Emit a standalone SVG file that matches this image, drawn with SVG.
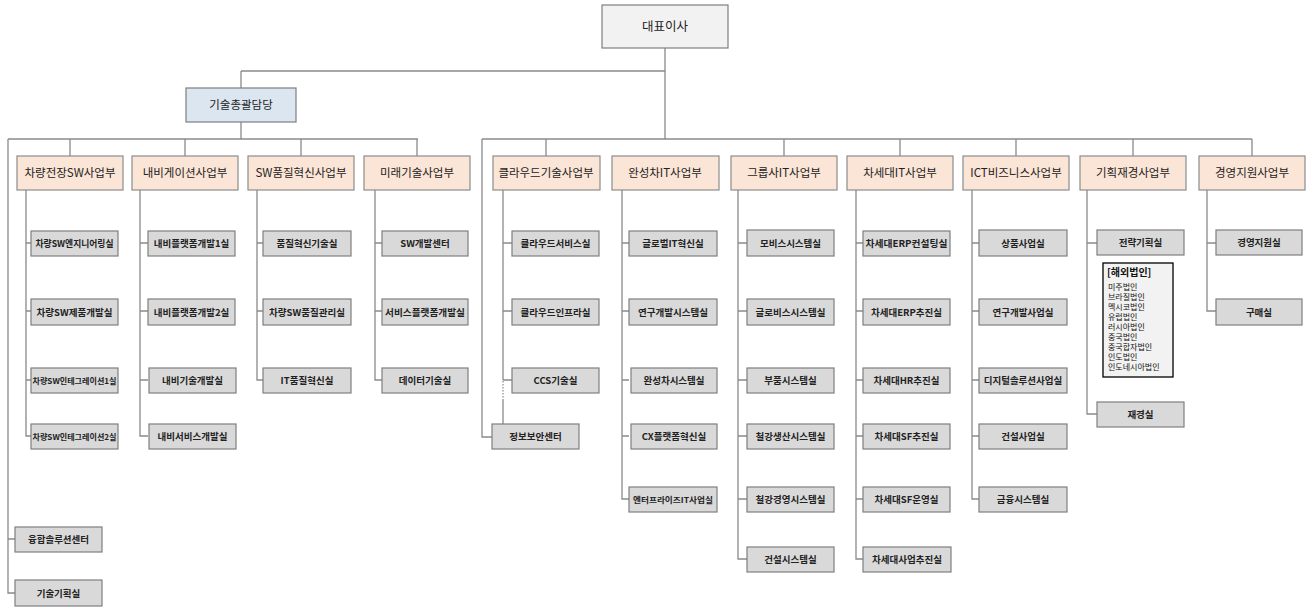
<svg xmlns="http://www.w3.org/2000/svg" width="1310" height="612" viewBox="0 0 1310 612">
<style>
.ln{fill:none;stroke:#8a8a8a;stroke-width:1.3}
.dot{fill:none;stroke:#8a8a8a;stroke-width:1.2;stroke-dasharray:1.5 1.5}
.top{fill:#f2f2f2;stroke:#7f7f7f;stroke-width:1.2}
.gen{fill:#dce6f1;stroke:#7f7f7f;stroke-width:1.2}
.hd{fill:#fbe5d6;stroke:#8c8c8c;stroke-width:1.2}
.ch{fill:#d9d9d9;stroke:#7f7f7f;stroke-width:1.2}
.ov{fill:#f2f2f2;stroke:#000;stroke-width:1.3}
text{font-family:"Noto Sans CJK KR","Noto Sans",sans-serif;fill:#222;text-anchor:middle}
.tt{font-size:12.5px}
.th{font-size:11.5px}
.tc{font-size:9.5px;font-weight:bold}
.ts{font-size:8px;font-weight:bold}
.tl{font-size:8px;text-anchor:start;fill:#111}
.tlh{font-size:10px;text-anchor:start;fill:#111;font-weight:bold}
</style>
<rect width="1310" height="612" fill="#fff"/>
<g id="connectors">
<path class="ln" d="M665 48V139M241 71H665M241 71V88M241 122V139M8 139H418M70 139V156M185 139V156M301 139V156M417 139V156"/>
<path class="ln" d="M8 139V593H15M8 539H15"/>
<path class="ln" d="M482 139H1252M546 139V156M784 139V156M900 139V156M1016 139V156M1133 139V156M1252 139V156"/>
<path class="ln" d="M482 139V437H492"/>
<path class="ln" d="M26 190V436H31M26 243H31M26 311H31M26 380H31"/>
<path class="ln" d="M140 190V436H148M140 243H148M140 311H148M140 380H148"/>
<path class="ln" d="M257 190V380H263M257 243H263M257 311H263"/>
<path class="ln" d="M375 190V380H382M375 243H382M375 311H382"/>
<path class="ln" d="M503 190V380M503 243H512M503 311H512M503 380H512M503 400V424"/>
<path class="dot" d="M503 381V400"/>
<path class="ln" d="M622 190V499H629M622 243H629M622 311H629M622 380H629M622 436H629"/>
<path class="ln" d="M738 190V559H747M738 243H747M738 311H747M738 380H747M738 436H747M738 499H747"/>
<path class="ln" d="M856 190V559H863M856 243H863M856 311H863M856 380H863M856 436H863M856 499H863"/>
<path class="ln" d="M972 190V499H979M972 243H979M972 311H979M972 380H979M972 436H979"/>
<path class="ln" d="M1087 190V414H1097M1087 243H1097"/>
<path class="ln" d="M1207 190V311H1216M1207 243H1216"/>
</g>
<g id="ceo"><rect class="top" x="602" y="5" width="126" height="43"/><text class="tt" x="665" y="31">대표이사</text></g>
<g id="cto"><rect class="gen" x="186" y="88" width="110" height="34"/><text class="th" x="241" y="109">기술총괄담당</text></g>
<g id="d1"><rect class="hd" x="17" y="156" width="106" height="34"/><text class="th" x="70" y="177">차량전장SW사업부</text></g>
<g id="d2"><rect class="hd" x="132" y="156" width="106" height="34"/><text class="th" x="185" y="177">내비게이션사업부</text></g>
<g id="d3"><rect class="hd" x="248" y="156" width="106" height="34"/><text class="th" x="301" y="177">SW품질혁신사업부</text></g>
<g id="d4"><rect class="hd" x="364" y="156" width="106" height="34"/><text class="th" x="417" y="177">미래기술사업부</text></g>
<g id="d5"><rect class="hd" x="493" y="156" width="107" height="34"/><text class="th" x="546" y="177">클라우드기술사업부</text></g>
<g id="d6"><rect class="hd" x="612" y="156" width="107" height="34"/><text class="th" x="665" y="177">완성차IT사업부</text></g>
<g id="d7"><rect class="hd" x="731" y="156" width="106" height="34"/><text class="th" x="784" y="177">그룹사IT사업부</text></g>
<g id="d8"><rect class="hd" x="847" y="156" width="106" height="34"/><text class="th" x="900" y="177">차세대IT사업부</text></g>
<g id="d9"><rect class="hd" x="963" y="156" width="106" height="34"/><text class="th" x="1016" y="177">ICT비즈니스사업부</text></g>
<g id="d10"><rect class="hd" x="1080" y="156" width="106" height="34"/><text class="th" x="1133" y="177">기획재경사업부</text></g>
<g id="d11"><rect class="hd" x="1199" y="156" width="106" height="34"/><text class="th" x="1252" y="177">경영지원사업부</text></g>

<g id="a1"><rect class="ch" x="31" y="231" width="87" height="25"/><text class="tc" x="74.5" y="247" textLength="78" lengthAdjust="spacingAndGlyphs">차량SW엔지니어링실</text></g>
<g id="a2"><rect class="ch" x="31" y="299" width="87" height="26"/><text class="tc" x="74.5" y="315.5">차량SW제품개발실</text></g>
<g id="a3"><rect class="ch" x="31" y="368" width="87" height="25"/><text class="ts" x="74.5" y="384" textLength="84" lengthAdjust="spacingAndGlyphs">차량SW인테그레이션1실</text></g>
<g id="a4"><rect class="ch" x="31" y="424" width="87" height="25"/><text class="ts" x="74.5" y="440" textLength="84" lengthAdjust="spacingAndGlyphs">차량SW인테그레이션2실</text></g>

<g id="b1"><rect class="ch" x="148" y="231" width="87" height="25"/><text class="tc" x="191.5" y="247">내비플랫폼개발1실</text></g>
<g id="b2"><rect class="ch" x="148" y="299" width="87" height="26"/><text class="tc" x="191.5" y="315.5">내비플랫폼개발2실</text></g>
<g id="b3"><rect class="ch" x="149" y="368" width="87" height="25"/><text class="tc" x="192.5" y="384">내비기술개발실</text></g>
<g id="b4"><rect class="ch" x="149" y="424" width="87" height="25"/><text class="tc" x="192.5" y="440">내비서비스개발실</text></g>

<g id="c1"><rect class="ch" x="263" y="231" width="88" height="25"/><text class="tc" x="307" y="247">품질혁신기술실</text></g>
<g id="c2"><rect class="ch" x="263" y="299" width="88" height="26"/><text class="tc" x="307" y="315.5">차량SW품질관리실</text></g>
<g id="c3"><rect class="ch" x="263" y="368" width="88" height="25"/><text class="tc" x="307" y="384">IT품질혁신실</text></g>

<g id="e1"><rect class="ch" x="382" y="231" width="86" height="25"/><text class="tc" x="425" y="247">SW개발센터</text></g>
<g id="e2"><rect class="ch" x="382" y="299" width="86" height="26"/><text class="tc" x="425" y="315.5" textLength="80" lengthAdjust="spacingAndGlyphs">서비스플랫폼개발실</text></g>
<g id="e3"><rect class="ch" x="382" y="368" width="86" height="25"/><text class="tc" x="425" y="384">데이터기술실</text></g>

<g id="f1"><rect class="ch" x="512" y="231" width="87" height="25"/><text class="tc" x="555.5" y="247">클라우드서비스실</text></g>
<g id="f2"><rect class="ch" x="512" y="299" width="87" height="26"/><text class="tc" x="555.5" y="315.5">클라우드인프라실</text></g>
<g id="f3"><rect class="ch" x="512" y="368" width="87" height="25"/><text class="tc" x="555.5" y="384">CCS기술실</text></g>
<g id="f4"><rect class="ch" x="492" y="424" width="87" height="25"/><text class="tc" x="535.5" y="440">정보보안센터</text></g>

<g id="g1"><rect class="ch" x="629" y="231" width="88" height="25"/><text class="tc" x="673" y="247">글로벌IT혁신실</text></g>
<g id="g2"><rect class="ch" x="629" y="299" width="88" height="26"/><text class="tc" x="673" y="315.5">연구개발시스템실</text></g>
<g id="g3"><rect class="ch" x="631" y="368" width="86" height="25"/><text class="tc" x="674" y="384">완성차시스템실</text></g>
<g id="g4"><rect class="ch" x="631" y="424" width="86" height="25"/><text class="tc" x="674" y="440">CX플랫폼혁신실</text></g>
<g id="g5"><rect class="ch" x="629" y="487" width="88" height="25"/><text class="ts" x="673" y="502.5" textLength="80" lengthAdjust="spacingAndGlyphs">엔터프라이즈IT사업실</text></g>

<g id="h1"><rect class="ch" x="747" y="230" width="87" height="26"/><text class="tc" x="790.5" y="246.5">모비스시스템실</text></g>
<g id="h2"><rect class="ch" x="747" y="299" width="87" height="26"/><text class="tc" x="790.5" y="315.5">글로비스시스템실</text></g>
<g id="h3"><rect class="ch" x="747" y="368" width="87" height="25"/><text class="tc" x="790.5" y="384">부품시스템실</text></g>
<g id="h4"><rect class="ch" x="747" y="424" width="87" height="25"/><text class="tc" x="790.5" y="440">철강생산시스템실</text></g>
<g id="h5"><rect class="ch" x="747" y="487" width="87" height="25"/><text class="tc" x="790.5" y="503">철강경영시스템실</text></g>
<g id="h6"><rect class="ch" x="747" y="547" width="87" height="25"/><text class="tc" x="790.5" y="563">건설시스템실</text></g>

<g id="i1"><rect class="ch" x="863" y="231" width="87" height="25"/><text class="tc" x="906.5" y="247" textLength="82" lengthAdjust="spacingAndGlyphs">차세대ERP컨설팅실</text></g>
<g id="i2"><rect class="ch" x="863" y="299" width="87" height="26"/><text class="tc" x="906.5" y="315.5">차세대ERP추진실</text></g>
<g id="i3"><rect class="ch" x="863" y="368" width="87" height="25"/><text class="tc" x="906.5" y="384">차세대HR추진실</text></g>
<g id="i4"><rect class="ch" x="863" y="424" width="87" height="25"/><text class="tc" x="906.5" y="440">차세대SF추진실</text></g>
<g id="i5"><rect class="ch" x="863" y="487" width="87" height="25"/><text class="tc" x="906.5" y="503">차세대SF운영실</text></g>
<g id="i6"><rect class="ch" x="863" y="547" width="88" height="25"/><text class="tc" x="907" y="563">차세대사업추진실</text></g>

<g id="j1"><rect class="ch" x="979" y="230" width="88" height="26"/><text class="tc" x="1023" y="246.5">상품사업실</text></g>
<g id="j2"><rect class="ch" x="979" y="299" width="88" height="26"/><text class="tc" x="1023" y="315.5">연구개발사업실</text></g>
<g id="j3"><rect class="ch" x="979" y="368" width="88" height="25"/><text class="tc" x="1023" y="384">디지털솔루션사업실</text></g>
<g id="j4"><rect class="ch" x="979" y="424" width="88" height="25"/><text class="tc" x="1023" y="440">건설사업실</text></g>
<g id="j5"><rect class="ch" x="979" y="487" width="88" height="25"/><text class="tc" x="1023" y="503">금융시스템실</text></g>

<g id="k1"><rect class="ch" x="1097" y="230" width="87" height="25"/><text class="tc" x="1140.5" y="246">전략기획실</text></g>
<g id="k2"><rect class="ov" x="1103" y="263" width="70" height="114"/>
<text class="tlh" x="1107" y="276">[해외법인]</text>
<text class="tl" x="1108" y="290">미주법인</text>
<text class="tl" x="1108" y="300">브라질법인</text>
<text class="tl" x="1108" y="310">멕시코법인</text>
<text class="tl" x="1108" y="320">유럽법인</text>
<text class="tl" x="1108" y="330">러시아법인</text>
<text class="tl" x="1108" y="340">중국법인</text>
<text class="tl" x="1108" y="350">중국합자법인</text>
<text class="tl" x="1108" y="360">인도법인</text>
<text class="tl" x="1108" y="370">인도네시아법인</text></g>
<g id="k3"><rect class="ch" x="1097" y="402" width="87" height="25"/><text class="tc" x="1140.5" y="418">재경실</text></g>

<g id="l1"><rect class="ch" x="1216" y="230" width="86" height="25"/><text class="tc" x="1259" y="246">경영지원실</text></g>
<g id="l2"><rect class="ch" x="1216" y="299" width="86" height="26"/><text class="tc" x="1259" y="315.5">구매실</text></g>

<g id="m1"><rect class="ch" x="15" y="527" width="87" height="25"/><text class="tc" x="58.5" y="543">융합솔루션센터</text></g>
<g id="m2"><rect class="ch" x="15" y="580" width="87" height="26"/><text class="tc" x="58.5" y="596.5">기술기획실</text></g>
</svg>
